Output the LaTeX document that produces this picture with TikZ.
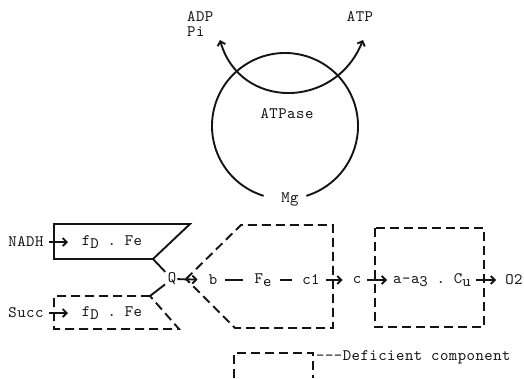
\documentclass[tikz,border=0pt]{standalone}
\usepackage{fontspec}
\setmonofont{lmmono10-regular.otf}[LetterSpace=3]
\usepackage{tikz}
\usetikzlibrary{arrows.meta,positioning}
\definecolor{encre}{RGB}{20,20,20}
\newcommand{\bas}[1]{\raisebox{-3.5pt}{#1}}

\begin{document}
\begin{tikzpicture}[x=1pt, y=-1pt, encre,
    every node/.style={font=\ttfamily\fontsize{16}{15}\selectfont, inner sep=1pt},
    trait/.style={line width=1.9pt},
    manque/.style={trait, dash pattern=on 9pt off 5pt},
    fleche/.style={trait, -{Straight Barb[length=4pt,width=8pt]}, shorten <=4pt, shorten >=4pt}]
    \useasboundingbox (0,0) rectangle (524,378);
    % ATPase
    \coordinate (centre) at (285,126);
    \draw[trait] (centre) ++(107:73) arc[start angle=107, end angle=433, radius=73];
    \node (atpase) at (287,114) {ATPase};
    \node (mg) at (290,199) {Mg};
    \node[align=left, anchor=west] (adp) at (186,24) {ADP\\Pi};
    \node (atp) at (360,17) {ATP};
    \coordinate (adptip) at (220,40);
    \coordinate (atptip) at (363,40);
    \draw[trait, {Straight Barb[length=4pt,width=8pt]}-{Straight Barb[length=4pt,width=8pt]}]
        (adptip) .. controls (240,110) and (335,110) .. (atptip);
    % chaine
    \draw[trait] (54,224) -- (190,224) -- (153,259) -- (54,259) -- cycle;
    \draw[manque] (150,296) -- (54,296) -- (54,329) -- (179,329) -- cycle;
    \draw[manque] (186,279) -- (241,225) -- (333,225) -- (333,328) -- (235,328) -- cycle;
    \draw[manque] (375,228) rectangle (484,327);
    \coordinate (encoche1) at (153,259);
    \coordinate (encoche2) at (150,296);
    \node (q) at (172,279) {Q};
    \draw[trait, shorten >=2pt] (encoche1) -- (q);
    \draw[trait, shorten >=2pt] (encoche2) -- (q);
    \node (nadh) at (26,242) {NADH};
    \node (fdfe1) at (112,242) {f\bas{D} . Fe};
    \coordinate (entree1) at (68,242);
    \draw[fleche, shorten >=0pt] (nadh) -- (entree1);
    \node (succ) at (26,313) {Succ};
    \node (fdfe2) at (112,313) {f\bas{D} . Fe};
    \coordinate (entree2) at (68,313);
    \draw[fleche, shorten >=0pt] (succ) -- (entree2);
    \node (b) at (213,280) {b};
    \node (fe) at (263,280) {F\bas{e}};
    \node (c1) at (311,280) {c1};
    \node (c) at (357,280) {c};
    \node (aa3cu) at (432,280) {a-a\bas{3} . C\bas{u}};
    \node (o2) at (514,280) {O2};
    \draw[fleche, shorten <=0pt, shorten >=10pt] (q) -- (b);
    \draw[trait, shorten <=7pt, shorten >=10pt] (b) -- (fe);
    \draw[trait, shorten <=7pt, shorten >=9pt] (fe) -- (c1);
    \draw[fleche, shorten <=5pt, shorten >=9pt] (c1) -- (c);
    \draw[fleche, shorten <=5pt, shorten >=5pt] (c) -- (aa3cu);
    \draw[fleche, shorten <=4pt, shorten >=8pt] (aa3cu) -- (o2);
    % legende
    \draw[manque] (234,378) -- (234,353) -- (313,353) -- (313,378);
    \node[anchor=west] (legende) at (315,357) {---Deficient component};
\end{tikzpicture}
\end{document}
